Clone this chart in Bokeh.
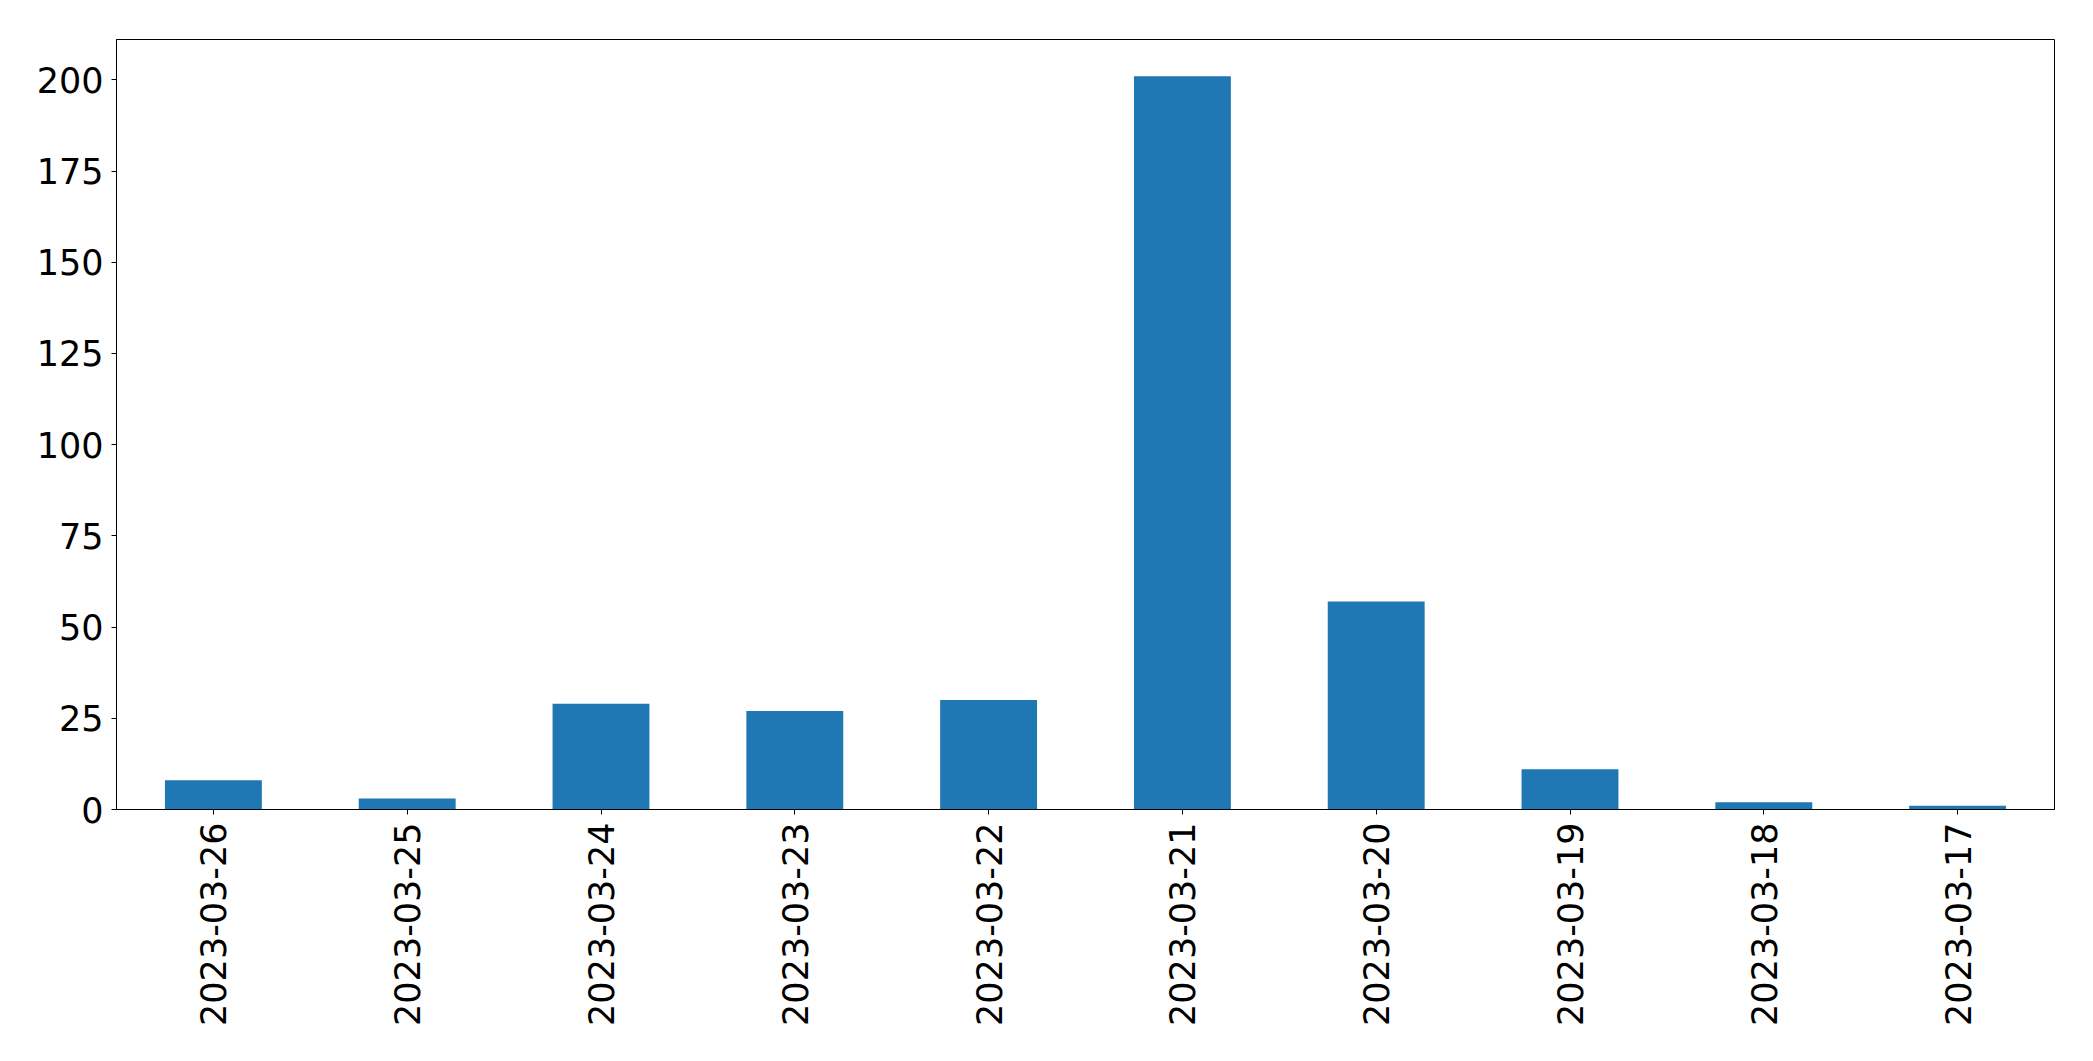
from bokeh.plotting import figure
from bokeh.models import FactorRange, Range1d, FixedTicker, ColumnDataSource
from bokeh.embed import file_html
from bokeh.resources import INLINE
import math

dates = ["2023-03-26", "2023-03-25", "2023-03-24", "2023-03-23", "2023-03-22",
         "2023-03-21", "2023-03-20", "2023-03-19", "2023-03-18", "2023-03-17"]
counts = [8, 3, 29, 27, 30, 201, 57, 11, 2, 1]
y_ticks = [0, 25, 50, 75, 100, 125, 150, 175, 200]

src = ColumnDataSource(dict(x=dates, top=counts))

p = figure(
    x_range=FactorRange(*dates, range_padding=0),
    y_range=Range1d(0, max(counts) * 1.05),
    frame_width=1938, frame_height=770,
    width=2074, height=1040,
    min_border_left=116, min_border_top=39, min_border_right=20, min_border_bottom=231,
    output_backend="svg", toolbar_location=None,
)

p.vbar(x="x", top="top", width=0.5, source=src, fill_color="#1f77b4", line_color=None)

p.xgrid.visible = False
p.ygrid.visible = False
p.outline_line_color = "black"
p.outline_line_width = 1
p.outline_line_alpha = 1

for ax in (p.xaxis, p.yaxis):
    ax.axis_line_color = "black"
    ax.axis_line_width = 1
    ax.major_tick_line_color = "black"
    ax.major_tick_out = 5
    ax.major_tick_in = 0
    ax.minor_tick_line_color = None
    ax.major_label_text_font = "DejaVu Sans"
    ax.major_label_text_font_size = "35px"
    ax.major_label_text_color = "black"
    ax.major_label_standoff = 8

p.yaxis.ticker = FixedTicker(ticks=y_ticks)
p.xaxis.major_label_orientation = math.pi / 2
p.xaxis.group_text_font_size = "0px"

open("out.html", "w").write(file_html(p, INLINE))
